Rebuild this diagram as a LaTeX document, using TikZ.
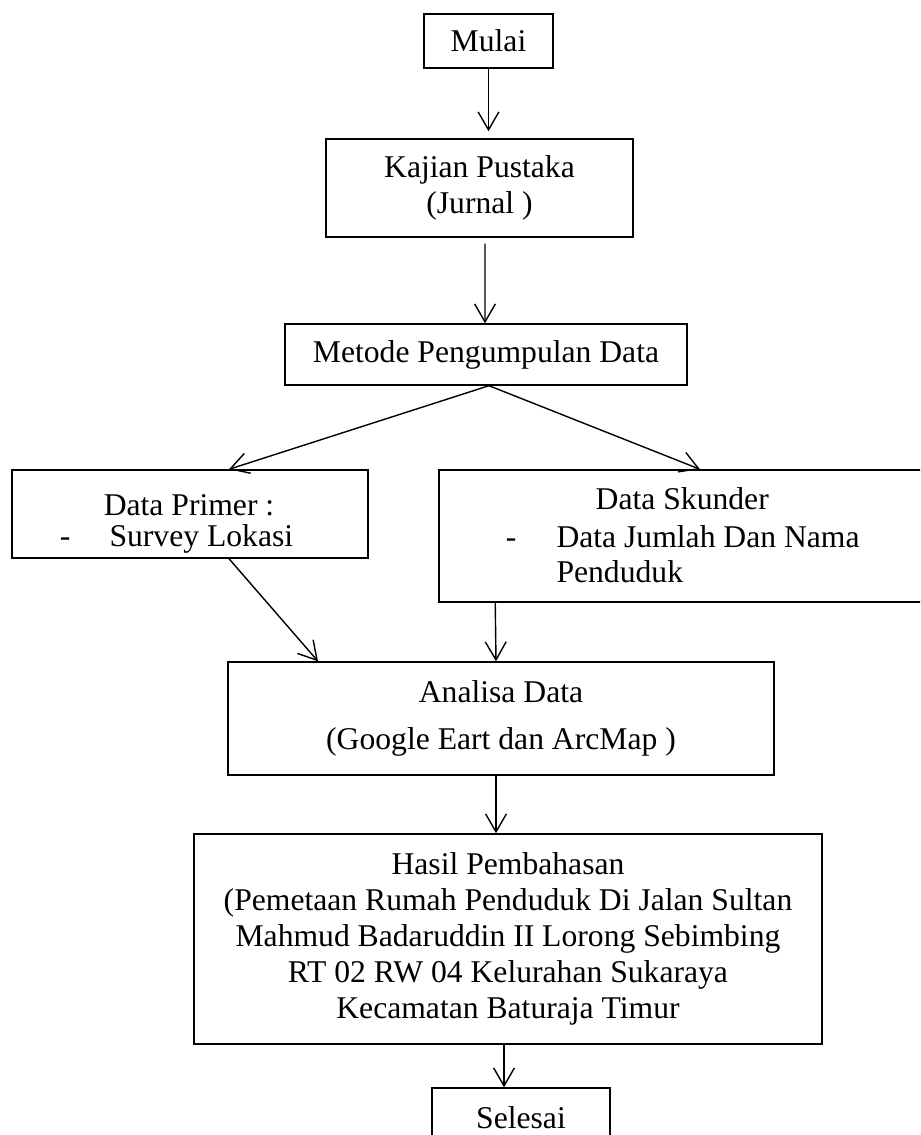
\documentclass[tikz,border=0pt]{standalone}
\usepackage{fontspec}
\setmainfont{Liberation Serif}
\usetikzlibrary{arrows.meta, calc}

\begin{document}
\begin{tikzpicture}[
    x=0.025cm, y=-0.025cm,
    box/.style={rectangle, draw, line width=1pt, align=center, inner sep=0pt, font=\fontsize{22.5}{25.6}\selectfont},
    txt/.style={inner sep=0pt, font=\fontsize{22.5}{25.6}\selectfont},
    arrow/.style={-{Straight Barb[length=0.45cm, width=0.52cm]}, line width=1pt}
]

    % Page frame (boxes run off the right and bottom edge)
    \clip (0,0) rectangle (920,1135);

    % --- Main column ---
    \node[box, minimum width=3.225cm, minimum height=1.35cm] (mulai) at (488.5,41) {Mulai};
    \node[box, minimum width=7.675cm, minimum height=2.45cm] (kajian) at (479.5,188) {Kajian Pustaka\\(Jurnal )};
    \node[box, minimum width=10.05cm, minimum height=1.525cm] (metode) at (486,354.5) {Metode Pengumpulan Data};

    % --- Data sources ---
    \node[box, minimum width=8.9cm, minimum height=2.2cm] (primer) at (190,514) {};
    \node[txt, anchor=base] at ($(primer.north)+(-1,46)$) {Data Primer :};
    \node[txt, anchor=base] at ($(primer.north west)+(54,77)$) {-};
    \node[txt, anchor=base west] at ($(primer.north west)+(98,77)$) {Survey Lokasi};

    \node[box, minimum width=12.525cm, minimum height=3.3cm] (skunder) at (689.5,536) {};
    \node[txt, anchor=base] at ($(skunder.north west)+(244,40)$) {Data Skunder};
    \node[txt, anchor=base] at ($(skunder.north west)+(73,78)$) {-};
    \node[txt, anchor=base west] at ($(skunder.north west)+(118,78)$) {Data Jumlah Dan Nama};
    \node[txt, anchor=base west] at ($(skunder.north west)+(118,113)$) {Penduduk};

    % --- Analysis and result ---
    \node[box, minimum width=13.65cm, minimum height=2.825cm] (analisa) at (501,718.5) {Analisa Data\\[8.4pt](Google Eart dan ArcMap )};
    \node[box, minimum width=15.7cm, minimum height=5.25cm] (hasil) at (508,939)
        {Hasil Pembahasan\\(Pemetaan Rumah Penduduk Di Jalan Sultan\\Mahmud Badaruddin II Lorong Sebimbing\\RT 02 RW 04 Kelurahan Sukaraya\\Kecamatan Baturaja Timur};
    \node[box, minimum width=4.45cm, minimum height=1.5cm] (selesai) at (521,1118) {Selesai};

    % --- Arrows ---
    \draw[arrow, shorten >=0.175cm] (mulai.south) -- (mulai.south |- kajian.north);
    \draw[arrow, shorten <=0.15cm] ($(kajian.south)+(5.5,0)$) -- ($(metode.north)+(-1,0)$);
    \draw[arrow] ($(metode.south)+(3,0)$) -- ($(primer.north)+(39,0)$);
    \draw[arrow] ($(metode.south)+(3,0)$) -- ($(skunder.north)+(10.5,0)$);
    \draw[arrow] ($(primer.south)+(39,0)$) -- ($(analisa.north)+(-183,0)$);
    \draw[arrow] ($(skunder.south west)+(57,0)$) -- ($(analisa.north)+(-5,0)$);
    \draw[arrow] ($(analisa.south)+(-5,0)$) -- ($(hasil.north)+(-12,0)$);
    \draw[arrow] ($(hasil.south)+(-4,0)$) -- ($(selesai.north)+(-17,0)$);

\end{tikzpicture}
\end{document}
